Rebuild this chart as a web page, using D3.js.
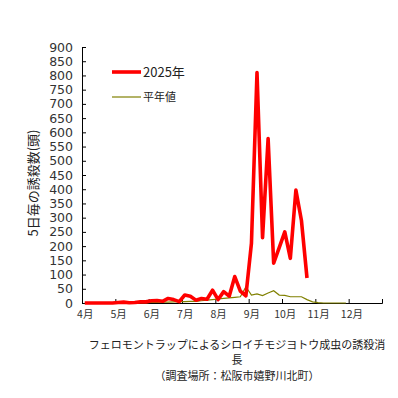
<!DOCTYPE html>
<html>
<head>
<meta charset="utf-8">
<script src="https://cdn.jsdelivr.net/npm/d3@7"></script>
<style>
  body { margin: 0; background: #fff; }
  text { font-family: "Noto Sans CJK JP", "Noto Sans", sans-serif; }
</style>
</head>
<body>
<div id="chart"></div>
<script>
// months on the category axis, 6 half-decades (半旬) each
const months = ["4月", "5月", "6月", "7月", "8月", "9月", "10月", "11月", "12月"];
const yTicks = [0, 50, 100, 150, 200, 250, 300, 350, 400, 450, 500, 550, 600, 650, 700, 750, 800, 850, 900];

// 2025年 counts per 5 days (Apr 1st half-decade .. Oct 5th)
const count2025 = [0, 0, 0, 0, 0, 0,
                   2, 3, 1, 2, 4, 4,
                   8, 9, 6, 16, 12, 5,
                   28, 24, 10, 16, 13, 45,
                   12, 40, 24, 93, 42, 25,
                   210, 810, 230, 578, 140, 195,
                   250, 157, 397, 290, 88];

// 平年値 (Apr .. Nov)
const countNormal = [0, 0, 0, 0, 0, 0,
                     0, 0, 0, 1, 1, 1,
                     2, 2, 3, 3, 4, 5,
                     5, 6, 6, 8, 10, 12,
                     14, 16, 18, 20, 22, 57,
                     28, 32, 26, 35, 43, 28,
                     27, 22, 22, 22, 12, 4,
                     1, 0, 0, 0, 0, 0];

const margin = {top: 47, right: 16, bottom: 95, left: 82},
    width = 398 - margin.left - margin.right,
    height = 398 - margin.top - margin.bottom;

const svg = d3.select("#chart")
    .append("svg")
    .attr("width", 398)
    .attr("height", 398)
    .append("g")
    .attr("transform", `translate(${margin.left},${margin.top})`);

const nCat = months.length * 6;

// x: category index, points sit in the middle of each category
const xScale = d3.scaleLinear()
    .domain([0, nCat])
    .range([0, width]);

const yScale = d3.scaleLinear()
    .domain([0, 900])
    .range([height, 0]);

// y axis, ticks pointing inward
const yAxisGroup = svg.append("g")
    .attr("class", "y-axis")
    .call(d3.axisLeft(yScale).tickValues(yTicks).tickSize(-4).tickPadding(9));
yAxisGroup.select(".domain").attr("stroke", "#000");
yAxisGroup.selectAll("text")
    .attr("font-size", 13)
    .attr("fill", "#333")
    .style("font-family", "'DejaVu Sans', sans-serif")
    .style("font-size", "12.5px");

// x axis: tick marks on month borders
const xAxisGroup = svg.append("g")
    .attr("class", "x-axis")
    .attr("transform", `translate(0, ${height})`)
    .call(d3.axisBottom(xScale)
        .tickValues(d3.range(0, nCat + 1, 6))
        .tickSize(-4)
        .tickFormat(""));
xAxisGroup.select(".domain").attr("stroke", "#000");

// month labels centred on the first category of each month
const xLabelGroup = svg.append("g")
    .attr("transform", `translate(0, ${height})`)
    .call(d3.axisBottom(xScale)
        .tickValues(months.map((m, i) => i * 6 + 0.5))
        .tickSize(0)
        .tickPadding(8)
        .tickFormat((d, i) => months[i]));
xLabelGroup.select(".domain").remove();
xLabelGroup.selectAll("text")
    .attr("fill", "#333")
    .style("font-size", "10.5px");

const line = d3.line()
    .x((d, i) => xScale(i + 0.5))
    .y(d => yScale(d));

svg.append("path")
    .datum(countNormal)
    .attr("fill", "none")
    .attr("stroke", "#808000")
    .attr("stroke-width", 1.2)
    .attr("d", line);

svg.append("path")
    .datum(count2025)
    .attr("fill", "none")
    .attr("stroke", "#ff0000")
    .attr("stroke-width", 3.6)
    .attr("stroke-linejoin", "round")
    .attr("d", line);

// legend
const legend = [
    {name: "2025年", color: "#ff0000", w: 3.6, size: 13, y: 25},
    {name: "平年値", color: "#808000", w: 1.2, size: 11, y: 50}
];
const lg = svg.append("g").attr("transform", "translate(30,0)");
lg.selectAll("line")
    .data(legend)
    .enter()
    .append("line")
    .attr("x1", 0).attr("x2", 29)
    .attr("y1", d => d.y).attr("y2", d => d.y)
    .attr("stroke", d => d.color)
    .attr("stroke-width", d => d.w);
lg.selectAll("text")
    .data(legend)
    .enter()
    .append("text")
    .attr("x", 31)
    .attr("y", d => d.y)
    .attr("dy", "0.35em")
    .attr("font-size", d => d.size)
    .attr("fill", "#222")
    .text(d => d.name);

// y axis title
svg.append("text")
    .attr("transform", `translate(${33 - margin.left},${183 - margin.top}) rotate(-90)`)
    .attr("text-anchor", "middle")
    .attr("dy", "0.35em")
    .attr("font-size", 13)
    .attr("fill", "#222")
    .text("5日毎の誘殺数(頭)");

// caption
const caption = ["フェロモントラップによるシロイチモジヨトウ成虫の誘殺消", "長", "（調査場所：松阪市嬉野川北町）"];
svg.selectAll(".caption")
    .data(caption)
    .enter()
    .append("text")
    .attr("class", "caption")
    .attr("x", 237 - margin.left)
    .attr("y", (d, i) => 345 + i * 15.5 - margin.top)
    .attr("dy", "0.35em")
    .attr("text-anchor", "middle")
    .attr("font-size", 11)
    .attr("fill", "#222")
    .text(d => d);
</script>
</body>
</html>
